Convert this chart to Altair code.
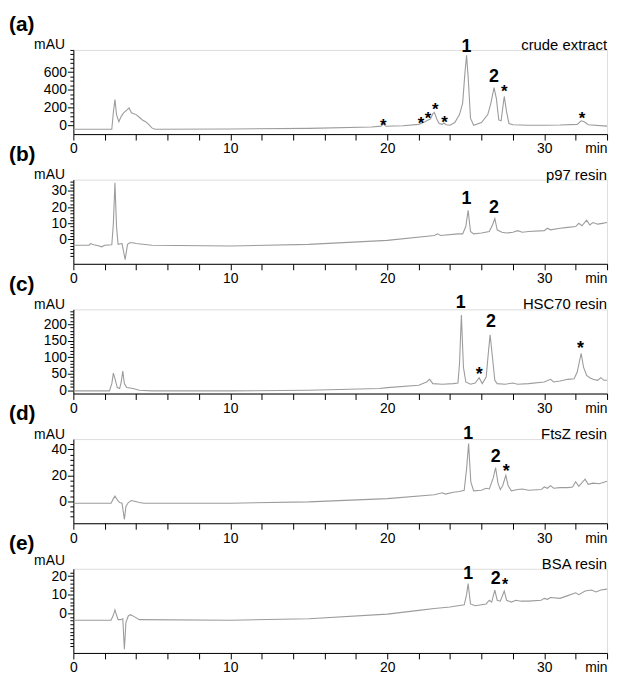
import altair as alt
import pandas as pd

W, H = 539, 85
FONT = "Liberation Sans"
LINE_COLOR = "#9c9c9c"

# ---------------- panel (a) crude extract ----------------
a_t = [0, 2.45, 2.55, 2.65, 2.75, 2.9, 3.05, 3.2, 3.4, 3.55, 3.7, 3.85, 4.0, 4.2, 4.4, 4.6, 4.8, 5.0, 5.2,
       10, 15, 19.0, 19.6, 19.75, 19.9, 21.0, 22.0, 22.4, 22.6, 22.75, 22.9, 23.0, 23.15, 23.3, 23.5, 23.6,
       23.75, 24.0, 24.3, 24.6, 24.8, 24.95, 25.05, 25.15, 25.3, 25.5, 26.0, 26.4, 26.6, 26.8, 26.95, 27.1,
       27.25, 27.45, 27.6, 27.75, 28.0, 29, 30, 31, 32.1, 32.35, 32.55, 32.8, 34]
a_v = [-45, -45, 150, 290, 120, 40, 100, 140, 170, 195, 140, 130, 120, 90, 60, 40, 10, -30, -45,
       -42, -35, -20, -10, 15, -12, -5, 10, 40, 60, 70, 130, 145, 70, 20, 10, 25,
       5, 0, 30, 120, 250, 600, 790, 550, 80, 0, 30, 120, 250, 425, 300, 60,
       50, 325, 150, 20, 5, 0, 0, 2, 10, 50, 40, 5, -10]
a_lab_t = [25.05, 26.8, 27.45, 19.75, 22.15, 22.6, 23.05, 23.65, 32.4]
a_lab_v = [830, 485, 320, -60, -40, 15, 120, -30, 15]
a_lab_s = ["1", "2", "*", "*", "*", "*", "*", "*", "*"]

# ---------------- panel (b) p97 resin ----------------
b_t = [0, 1.0, 1.1, 1.3, 1.6, 1.8, 2.0, 2.45, 2.55, 2.65, 2.75, 2.85, 3.1, 3.3, 3.45, 3.6, 3.8, 4.0, 5.0,
       10, 15, 20, 23.0, 23.2, 23.4, 24.5, 24.8, 25.0, 25.15, 25.3, 25.5, 26.0, 26.5, 26.7, 26.85, 27.0,
       27.3, 27.6, 28.0, 28.3, 28.6, 29.0, 30.0, 30.2, 30.4, 31.0, 31.5, 32.0, 32.2, 32.4, 32.7, 32.9,
       33.1, 33.4, 33.7, 34.0]
b_v = [-3.5, -3.5, -2.5, -3.2, -3.8, -4.5, -3.5, -3.2, 10, 35, 8, -3, -2.5, -12.5, -3, -2, -2, -2.5, -3.5,
       -4, -3, -0.5, 2.5, 3.5, 2.5, 3.5, 3.5, 8, 18, 5, 3.5, 4, 5, 9, 13, 6,
       4.5, 4, 4.5, 5.5, 4.5, 5, 5.5, 7, 6, 7, 7.5, 8, 10, 8.5, 12, 9,
       10.5, 9.5, 10, 10.5]
b_lab_t = [25.05, 26.8]
b_lab_v = [22, 16.5]
b_lab_s = ["1", "2"]

# ---------------- panel (c) HSC70 resin ----------------
c_t = [0, 2.3, 2.45, 2.55, 2.65, 2.8, 2.95, 3.05, 3.15, 3.25, 3.4, 3.8, 4.2, 5.0, 10, 15, 19.5, 20.0,
       22.0, 22.5, 22.7, 22.9, 23.5, 24.2, 24.5, 24.6, 24.72, 24.85, 25.0, 25.3, 25.6, 25.85, 26.05,
       26.3, 26.45, 26.55, 26.7, 26.85, 27.0, 27.5, 28.0, 28.3, 29.0, 30.0, 30.4, 30.6, 31.0, 31.5,
       31.9, 32.1, 32.35, 32.5, 32.7, 32.9, 33.1, 33.4, 33.6, 33.8, 34.0]
c_v = [-2, -2, 20, 52, 35, 8, 5, 25, 58, 20, 8, 5, 0, -2, -2, 0, 5, 8,
       15, 25, 33, 20, 18, 20, 22, 80, 228, 70, 25, 18, 22, 38, 20,
       40, 120, 168, 100, 30, 20, 18, 22, 18, 20, 25, 33, 25, 28, 33,
       35, 55, 112, 70, 45, 38, 33, 30, 38, 30, 30]
c_lab_t = [24.67, 26.6, 25.85, 32.3]
c_lab_v = [248, 191, 30, 109]
c_lab_s = ["1", "2", "*", "*"]

# ---------------- panel (d) FtsZ resin ----------------
d_t = [0, 2.4, 2.55, 2.65, 2.8, 2.95, 3.1, 3.25, 3.35, 3.5, 3.7, 3.9, 4.2, 4.5, 10, 15, 20, 23.0, 23.5,
       23.7, 24.2, 24.6, 24.9, 25.05, 25.18, 25.32, 25.5, 26.0, 26.3, 26.5, 26.75, 26.9, 27.05, 27.2,
       27.35, 27.55, 27.7, 27.9, 28.3, 28.6, 29.0, 29.8, 30.0, 30.2, 30.4, 30.6, 31.0, 31.5, 31.8,
       32.0, 32.2, 32.6, 32.8, 33.1, 33.5, 34.0]
d_v = [-1.5, -1.5, 2, 4, 1, -1, -1.5, -14, -4, -1, 0.5, 0, -1, -1.5, -1.5, -0.5, 2, 5, 6.5,
       5.5, 7, 7.5, 8.5, 25, 44.5, 15, 8, 8.5, 10, 9.5, 18, 26, 14, 9,
       12, 20, 12, 8, 9, 9.5, 8.5, 9, 11, 10, 12, 10, 10.5, 10.5, 11,
       15, 11.5, 17, 13, 14, 13.5, 15.5]
d_lab_t = [25.15, 26.9, 27.57]
d_lab_v = [48, 30, 18.5]
d_lab_s = ["1", "2", "*"]

# ---------------- panel (e) BSA resin ----------------
e_t = [0, 2.4, 2.55, 2.65, 2.75, 2.85, 3.0, 3.15, 3.25, 3.35, 3.5, 3.65, 3.9, 4.2, 10, 15, 20, 22.0,
       23.0, 24.0, 24.5, 24.9, 25.05, 25.15, 25.3, 25.6, 26.3, 26.5, 26.65, 26.85, 27.0, 27.2, 27.45,
       27.6, 27.9, 28.2, 28.5, 29.0, 29.8, 30.0, 30.2, 30.4, 31.0, 31.5, 32.0, 32.2, 32.6, 33.0, 33.3,
       33.6, 34.0]
e_v = [-3.8, -3.8, -1, 1.8, -1, -3.5, -3.5, -3, -19.5, -5, -1.5, -0.8, -2, -3.5, -3.8, -3, -0.5, 1.5,
       2.5, 3.3, 4, 4.5, 10, 16, 5, 4, 5, 7, 6, 12.5, 7, 6.5, 12,
       7, 6, 7, 6.5, 6.5, 7, 8, 7.5, 8.5, 8, 9.5, 11, 10, 12, 12.5, 11.5,
       12.5, 13]
e_lab_t = [25.15, 26.9, 27.5]
e_lab_v = [18.4, 15.7, 12.5]
e_lab_s = ["1", "2", "*"]

# x axis ticks (minutes)
x_ticks = list(range(0, 35, 2))
x_major = [0, 10, 20, 30]

panels = [
    dict(letter="(a)", name="crude extract", t=a_t, v=a_v, lt=a_lab_t, lv=a_lab_v, ls=a_lab_s,
         dom=[-100, 850], ticks=list(range(0, 851, 50)), major=[0, 200, 400, 600], star=17, ty=-5),
    dict(letter="(b)", name="p97 resin", t=b_t, v=b_v, lt=b_lab_t, lv=b_lab_v, ls=b_lab_s,
         dom=[-15, 37], ticks=list(range(-10, 37, 2)), major=[0, 10, 20, 30], star=18, ty=-5),
    dict(letter="(c)", name="HSC70 resin", t=c_t, v=c_v, lt=c_lab_t, lv=c_lab_v, ls=c_lab_s,
         dom=[-10, 245], ticks=list(range(0, 241, 10)), major=[0, 50, 100, 150, 200], star=18, ty=-5),
    dict(letter="(d)", name="FtsZ resin", t=d_t, v=d_v, lt=d_lab_t, lv=d_lab_v, ls=d_lab_s,
         dom=[-17, 48], ticks=list(range(-12, 45, 4)), major=[0, 20, 40], star=18, ty=-5),
    dict(letter="(e)", name="BSA resin", t=e_t, v=e_v, lt=e_lab_t, lv=e_lab_v, ls=e_lab_s,
         dom=[-21.5, 24], ticks=list(range(-18, 23, 2)), major=[0, 10, 20], star=16, ty=-8),
]


def in_list(vals):
    return "indexof([" + ",".join(str(v) for v in vals) + "], datum.value) >= 0"


x_axis = alt.Axis(
    values=x_ticks,
    labelExpr="datum.value == 34 ? 'min' : (" + in_list(x_major) + " ? datum.label : '')",
    labelAlign={"condition": {"test": "datum.value == 34", "value": "right"}, "value": "center"},
    tickSize=6, labelFontSize=14, labelFont=FONT, labelColor="black", labelPadding=2,
    labelFlush=False, labelOverlap=False, domainColor="black", tickColor="black",
    grid=False, title=None,
)


def make_panel(p):
    y_axis = alt.Axis(
        values=p["ticks"],
        labelExpr=in_list(p["major"]) + " ? datum.label : ''",
        tickSize={"condition": {"test": in_list(p["major"]), "value": 6}, "value": 3.5},
        labelFontSize=14, labelFont=FONT, labelColor="black", labelPadding=1,
        labelFlush=False, labelOverlap=False, domainColor="black", tickColor="black",
        grid=False, title="mAU", titleAngle=0, titleAlign="right", titleBaseline="middle",
        titleX=-9, titleY=p["ty"], titleFont=FONT, titleFontSize=14, titleFontWeight="normal",
        titleColor="black",
    )
    xenc = alt.X("t:Q", scale=alt.Scale(domain=[0, 34], nice=False, zero=False), axis=x_axis)
    yenc = alt.Y("v:Q", scale=alt.Scale(domain=p["dom"], nice=False, zero=False), axis=y_axis)

    trace = pd.DataFrame({"t": p["t"], "v": p["v"]})
    labs = pd.DataFrame({"t": p["lt"], "v": p["lv"], "s": p["ls"]})
    labs["fs"] = [18 if s != "*" else p["star"] for s in p["ls"]]

    line = alt.Chart(trace).mark_line(color=LINE_COLOR, strokeWidth=1.1, clip=True).encode(x=xenc, y=yenc)
    peaks = alt.Chart(labs).mark_text(font=FONT, fontWeight="bold", baseline="alphabetic",
                                      align="center", color="black").encode(
        x=xenc, y=yenc, text="s:N", size=alt.Size("fs:Q", scale=None, legend=None))
    name = alt.Chart(pd.DataFrame({"s": [p["name"]]})).mark_text(
        font=FONT, fontSize=15, align="right", baseline="middle", color="black").encode(
        x=alt.value(W), y=alt.value(-5), text="s:N")
    letter = alt.Chart(pd.DataFrame({"s": [p["letter"]]})).mark_text(
        font=FONT, fontSize=21, fontWeight="bold", align="left", baseline="middle", color="black").encode(
        x=alt.value(-65), y=alt.value(-25), text="s:N")
    return alt.layer(line, peaks, name, letter).properties(width=W, height=H)


chart = alt.vconcat(*[make_panel(p) for p in panels], spacing=46, bounds="flush").properties(
    padding={"left": 0, "top": 2, "right": 5, "bottom": 5}
).configure_view(strokeWidth=0).configure(background="white")

chart.save("out.html", embed_options={"renderer": "svg", "actions": False})
